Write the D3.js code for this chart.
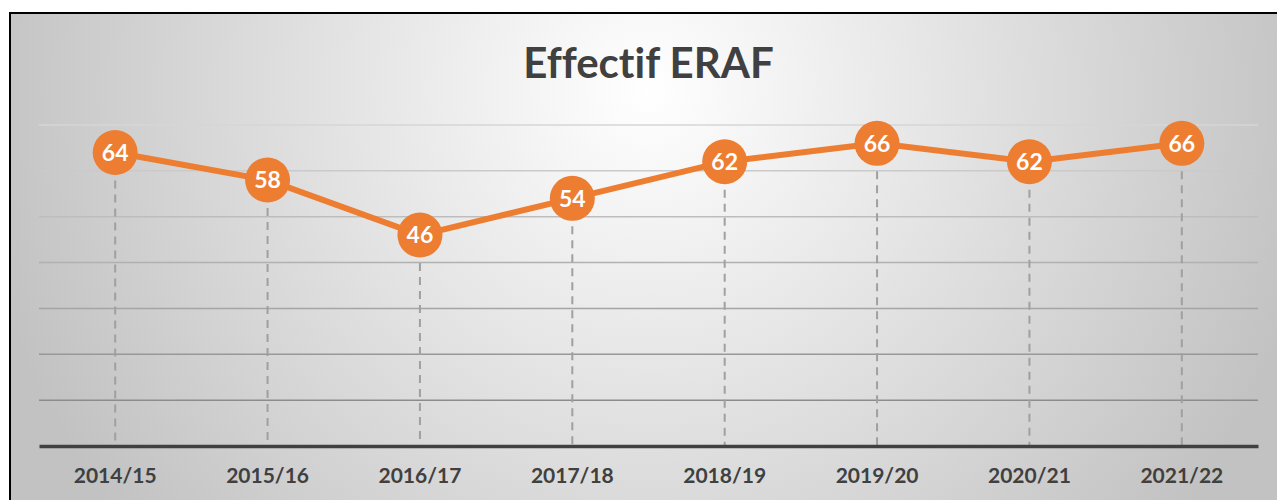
<!DOCTYPE html>
<html>
<head>
<meta charset="utf-8">
<title>Effectif ERAF</title>
<script src="https://cdn.jsdelivr.net/npm/d3@7"></script>
<style>
body { margin: 0; background: #fff; }
svg text { font-variant-ligatures: none; }
</style>
</head>
<body>
<div id="chart"></div>
<script>
// data
var years = ["2014/15", "2015/16", "2016/17", "2017/18", "2018/19", "2019/20", "2020/21", "2021/22"];
var effectif = [64, 58, 46, 54, 62, 66, 62, 66];
var yTicks = [0, 10, 20, 30, 40, 50, 60, 70];

var svgWidth = 1277, svgHeight = 500;
var margin = {top: 125, right: 19, bottom: 54, left: 39};
var width = svgWidth - margin.left - margin.right,
    height = svgHeight - margin.top - margin.bottom;

var svg = d3.select("#chart").append("svg")
    .attr("width", svgWidth)
    .attr("height", svgHeight)
    .style("font-family", "Lato, 'Open Sans', sans-serif");

// background gradient
var defs = svg.append("defs");
var grad = defs.append("radialGradient")
    .attr("id", "bg")
    .attr("gradientUnits", "userSpaceOnUse")
    .attr("cx", 648).attr("cy", 90)
    .attr("r", 680);
grad.append("stop").attr("offset", "0%").attr("stop-color", "#ffffff");
grad.append("stop").attr("offset", "100%").attr("stop-color", "#c2c2c2");

svg.append("rect")
    .attr("x", 10).attr("y", 13)
    .attr("width", 1300).attr("height", 520)
    .attr("fill", "url(#bg)")
    .attr("stroke", "#000")
    .attr("stroke-width", 2);

var g = svg.append("g")
    .attr("transform", "translate(" + margin.left + "," + margin.top + ")");

var x = d3.scaleBand().domain(years).range([0, width]).padding(0);
var y = d3.scaleLinear().domain([0, 70]).range([height, 0]);
var cx = function(d) { return x(d) + x.bandwidth() / 2; };

// gridlines, lighter at the top
var gridColor = d3.scaleLinear().domain([70, 10]).range(["#d6d6d6", "#8c8c8c"]);
g.selectAll(".grid")
    .data(yTicks.filter(function(d) { return d > 0; }))
    .enter().append("line")
    .attr("class", "grid")
    .attr("x1", 0).attr("x2", width)
    .attr("y1", function(d) { return y(d); })
    .attr("y2", function(d) { return y(d); })
    .attr("stroke", function(d) { return gridColor(d); })
    .attr("stroke-width", 1.5);

// drop lines
g.selectAll(".drop")
    .data(years)
    .enter().append("line")
    .attr("class", "drop")
    .attr("x1", cx).attr("x2", cx)
    .attr("y1", function(d, i) { return y(effectif[i]); })
    .attr("y2", y(0))
    .attr("stroke", "#a0a0a0")
    .attr("stroke-width", 2)
    .attr("stroke-dasharray", "8,6");

// x axis
var xAxis = g.append("g")
    .attr("transform", "translate(0," + height + ")")
    .call(d3.axisBottom(x).tickSize(0).tickPadding(22));
xAxis.select(".domain").attr("stroke", "#404040").attr("stroke-width", 3.5);
xAxis.selectAll("text")
    .attr("fill", "#404040")
    .style("font-size", "21px")
    .style("font-weight", "bold")
    .style("font-family", "Lato, 'Open Sans', sans-serif");

// line
var line = d3.line()
    .x(function(d, i) { return cx(years[i]); })
    .y(function(d) { return y(d); });

g.append("path")
    .datum(effectif)
    .attr("d", line)
    .attr("fill", "none")
    .attr("stroke", "#ED7D31")
    .attr("stroke-width", 6);

var pts = g.selectAll(".pt")
    .data(effectif)
    .enter().append("g")
    .attr("transform", function(d, i) { return "translate(" + cx(years[i]) + "," + y(d) + ")"; });

pts.append("circle")
    .attr("r", 22.5)
    .attr("fill", "#ED7D31");

pts.append("text")
    .text(function(d) { return d; })
    .attr("text-anchor", "middle")
    .attr("dy", "0.36em")
    .attr("fill", "#fff")
    .style("font-size", "23px")
    .style("font-weight", "bold");

// title
svg.append("text")
    .attr("x", margin.left + width / 2)
    .attr("y", 78)
    .attr("text-anchor", "middle")
    .attr("fill", "#404040")
    .style("font-size", "42px")
    .style("font-weight", "bold")
    .text("Effectif ERAF");
</script>
</body>
</html>
